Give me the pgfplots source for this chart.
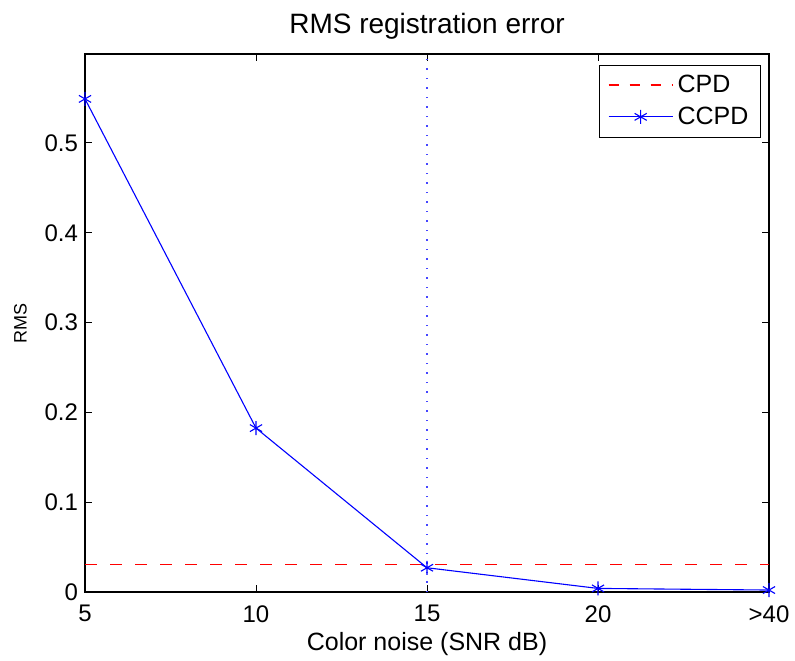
\documentclass[border=0pt]{standalone}
\usepackage{fontspec}
\setmainfont{Liberation Sans}
\usepackage{pgfplots}
\pgfplotsset{compat=1.18}
\definecolor{cpdred}{RGB}{255,0,0}
\definecolor{ccpdblue}{RGB}{0,0,255}
\definecolor{dotblue}{RGB}{70,70,255}

\begin{document}
\begin{tikzpicture}
\begin{axis}[
    name=ax,
    scale only axis,
    width=342pt, height=269pt,
    xmin=5, xmax=25,
    ymin=0, ymax=0.599,
    xtick={5,10,15,20,25},
    xticklabels={5,10,15,20,>40},
    ytick={0,0.1,0.2,0.3,0.4,0.5},
    yticklabels={0,0.1,0.2,0.3,0.4,0.5},
    tick align=inside,
    major tick length=3.5pt,
    axis line style={line width=0.6pt},
    every tick/.style={black, line width=0.5pt},
    title={RMS registration error},
    title style={font=\fontsize{14}{16}\selectfont, yshift=-2pt},
    xlabel={Color noise (SNR dB)},
    ylabel={RMS},
    xlabel style={font=\fontsize{12.5}{14}\selectfont, inner sep=1pt, yshift=-3pt},
    ylabel style={font=\fontsize{9}{10}\selectfont, yshift=2pt},
    tick label style={font=\fontsize{12}{14}\selectfont},
    xticklabel style={inner sep=1pt, yshift=-5.5pt},
    /pgf/number format/assume math mode=true,
    legend style={at={(0.988,0.98)}, anchor=north east,
        font=\fontsize{12.5}{14}\selectfont, inner xsep=4pt, inner ysep=3pt, row sep=1.5pt,
        cells={anchor=west}},
    legend cell align=left,
    legend image code/.code={%
        \draw[mark repeat=2,mark phase=2,#1]
            plot coordinates {(0pt,0pt) (16pt,0pt) (32pt,0pt)};},
]
\addlegendimage{draw=cpdred, line width=0.9pt, dash pattern=on 5pt off 5.5pt}
\addlegendentry{CPD}
\addplot[color=cpdred, draw=cpdred, line width=0.65pt, dash pattern=on 6pt off 6.5pt, forget plot]
    coordinates {(5,0.031) (25,0.031)};
\addplot[color=ccpdblue, draw=ccpdblue, line width=0.55pt, mark=asterisk, mark size=3.5pt,
    mark options={line width=0.55pt, solid, draw=ccpdblue}]
    coordinates {(5,0.549) (10,0.1825) (15,0.027) (20,0.004) (25,0.0022)};
\addlegendentry{CCPD}
\addplot[color=dotblue, draw=dotblue, line width=0.6pt, dash pattern=on 0.6pt off 4.15pt, forget plot]
    coordinates {(15,0) (15,0.599)};
\end{axis}
\path ([xshift=-42.5pt,yshift=-34pt]ax.south west) rectangle ([xshift=13pt,yshift=27pt]ax.north east);
\end{tikzpicture}
\end{document}
